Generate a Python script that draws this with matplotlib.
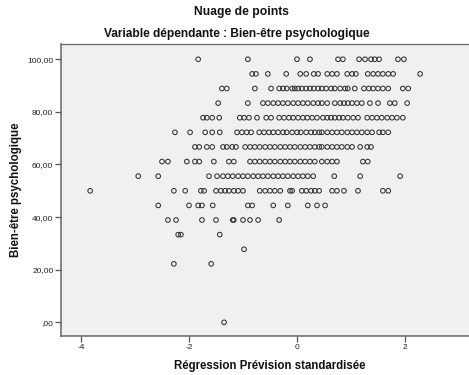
import matplotlib
matplotlib.use("Agg")
import matplotlib.pyplot as plt

plt.rcParams["font.family"] = ["Liberation Sans", "DejaVu Sans"]

# Observed scores (dependent variable) – one list of standardized predictions per score level
score_levels = [100.00, 94.44, 88.89, 83.33, 77.78, 72.22, 66.67, 61.11,
                55.56, 50.00, 44.44, 38.89, 33.33, 27.78, 22.22, 0.00]

pred_100 = [-1.83, -0.91, 0.00, 0.24, 0.76, 0.85, 1.15, 1.26, 1.37, 1.44, 1.52, 1.87, 1.98]
pred_94 = [-0.83, -0.76, -0.54, -0.20, 0.06, 0.17, 0.31, 0.39, 0.56, 0.65, 0.74, 0.93,
           1.02, 1.09, 1.31, 1.41, 1.50, 1.59, 1.69, 1.78, 2.28]
pred_89 = [-1.39, -1.30, -0.78, -0.48, -0.33, -0.26, -0.19, -0.09, -0.04, 0.02, 0.09, 0.17,
           0.24, 0.31, 0.39, 0.46, 0.54, 0.63, 0.70, 0.80, 0.89, 0.94, 1.07, 1.24, 1.33,
           1.41, 1.50, 1.59, 1.69, 1.96, 2.06]
pred_83 = [-1.46, -0.91, -0.63, -0.54, -0.44, -0.35, -0.26, -0.17, -0.07, 0.02, 0.11, 0.20,
           0.30, 0.39, 0.46, 0.56, 0.70, 0.80, 0.87, 0.94, 1.02, 1.11, 1.20, 1.35, 1.50,
           1.72, 1.81, 2.04]
pred_78 = [-1.74, -1.67, -1.57, -1.44, -1.06, -0.98, -0.89, -0.74, -0.57, -0.48, -0.33,
           -0.24, -0.15, -0.07, 0.02, 0.11, 0.19, 0.28, 0.37, 0.48, 0.56, 0.63, 0.70, 0.78,
           0.85, 0.94, 1.04, 1.13, 1.30, 1.39, 1.48, 1.57, 1.67, 1.76, 1.85, 1.96]
pred_72 = [-2.26, -1.98, -1.70, -1.57, -1.43, -1.11, -1.02, -0.93, -0.85, -0.70, -0.61,
           -0.52, -0.44, -0.35, -0.26, -0.19, -0.09, 0.00, 0.07, 0.17, 0.26, 0.33, 0.41,
           0.46, 0.56, 0.65, 0.74, 0.83, 0.93, 1.02, 1.11, 1.20, 1.30, 1.39, 1.52, 1.59, 1.69]
pred_67 = [-1.89, -1.81, -1.67, -1.57, -1.37, -1.30, -1.20, -1.13, -0.96, -0.87, -0.78,
           -0.69, -0.59, -0.50, -0.41, -0.31, -0.22, -0.13, -0.04, 0.06, 0.15, 0.24, 0.33,
           0.41, 0.46, 0.56, 0.65, 0.74, 0.83, 0.93, 1.02, 1.17, 1.30, 1.37]
pred_61 = [-2.50, -2.39, -2.04, -1.89, -1.81, -1.54, -1.26, -1.17, -0.87, -0.78, -0.69,
           -0.59, -0.50, -0.41, -0.31, -0.22, -0.13, -0.04, 0.06, 0.15, 0.24, 0.33, 0.46,
           0.56, 0.65, 0.74, 1.22, 1.31]
pred_56 = [-2.94, -2.57, -1.63, -1.48, -1.37, -1.28, -1.19, -1.09, -1.00, -0.91, -0.81,
           -0.72, -0.63, -0.54, -0.44, -0.35, -0.26, -0.17, -0.07, 0.02, 0.11, 0.20, 0.30,
           0.69, 1.17, 1.91]
pred_50 = [-3.83, -2.28, -2.07, -1.78, -1.72, -1.50, -1.41, -1.33, -1.26, -1.17, -1.09,
           -1.00, -0.69, -0.59, -0.50, -0.41, -0.31, -0.13, -0.09, 0.09, 0.17, 0.26, 0.33,
           0.41, 0.65, 0.74, 0.87, 1.13, 1.59, 1.69]
pred_44 = [-2.57, -2.00, -1.83, -1.76, -1.56, -0.91, -0.83, -0.44, -0.17, 0.20, 0.37, 0.52]
pred_39 = [-2.39, -2.24, -1.76, -1.50, -1.19, -1.17, -1.00, -0.87, -0.72, -0.33]
pred_33 = [-2.20, -2.15, -1.43]
pred_28 = [-0.98]
pred_22 = [-2.28, -1.59]
pred_0 = [-1.35]

predictions_by_level = [pred_100, pred_94, pred_89, pred_83, pred_78, pred_72, pred_67,
                        pred_61, pred_56, pred_50, pred_44, pred_39, pred_33, pred_28,
                        pred_22, pred_0]

y_ticks = [0, 20, 40, 60, 80, 100]
y_tick_labels = [",00", "20,00", "40,00", "60,00", "80,00", "100,00"]
x_ticks = [-4, -2, 0, 2]
x_tick_labels = ["-4", "-2", "0", "2"]

x_vals, y_vals = [], []
for level, preds in zip(score_levels, predictions_by_level):
    x_vals.extend(preds)
    y_vals.extend([level] * len(preds))

W, H = 469, 375
fig = plt.figure(figsize=(W / 100, H / 100), dpi=100)
fig.patch.set_facecolor("white")

left, right, top, bottom = 61, 469, 44, 336
ax = fig.add_axes([left / W, 1 - bottom / H, (right - left) / W, (bottom - top) / H])
ax.set_facecolor("#f0f0f0")

ax.scatter(x_vals, y_vals, s=11, facecolors="none", edgecolors="#333333",
           linewidths=0.75, zorder=3)

ax.set_xlim(-4.37, 3.185)
ax.set_ylim(-5.2, 105.8)

ax.set_xticks(x_ticks)
ax.set_xticklabels(x_tick_labels)
ax.set_yticks(y_ticks)
ax.set_yticklabels(y_tick_labels)
ax.tick_params(axis="both", direction="out", length=4, width=0.9, color="#555555",
               labelsize=6, labelcolor="#222222", pad=1.5)
ax.tick_params(top=False, right=False)

for side in ("left", "bottom", "top"):
    ax.spines[side].set_color("#666666")
    ax.spines[side].set_linewidth(1.1)
ax.spines["right"].set_visible(False)
ax.spines["top"].set_linewidth(0.9)

fig.text(241.8 / W, 1 - 12.5 / H, "Nuage de points", ha="center", va="center",
         fontsize=8.7, fontweight="bold", color="#111111")
fig.text(237 / W, 1 - 34.3 / H, "Variable dépendante : Bien-être psychologique",
         ha="center", va="center", fontsize=8.6, fontweight="bold", color="#111111")
fig.text(15.7 / W, 1 - 190 / H, "Bien-être psychologique", rotation=90,
         ha="center", va="center", fontsize=8.3, fontweight="bold", color="#111111")
fig.text(270 / W, 1 - 366 / H, "Régression Prévision standardisée",
         ha="center", va="center", fontsize=8.3, fontweight="bold", color="#111111")

fig.savefig("out.png", dpi=100)
